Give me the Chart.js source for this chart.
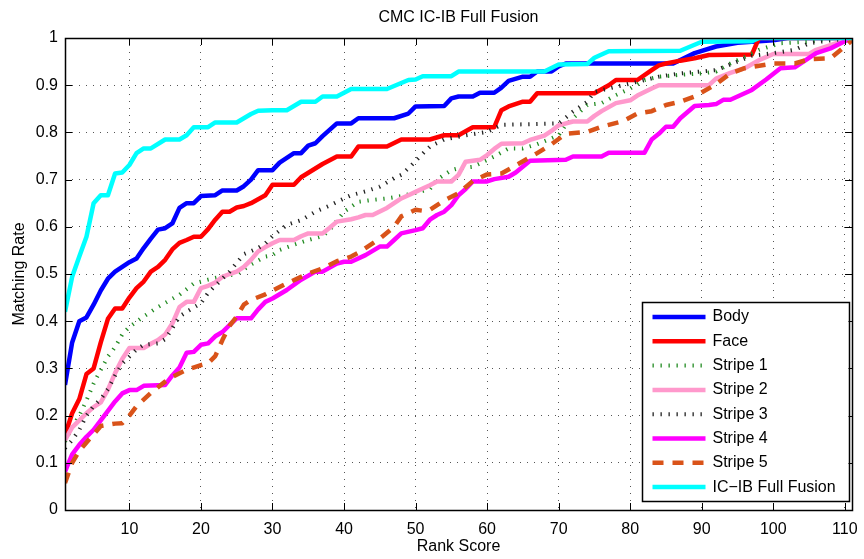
<!DOCTYPE html>
<html>
<head>
<meta charset="utf-8">
<script src="https://cdn.jsdelivr.net/npm/chart.js@4.4.0/dist/chart.umd.min.js"></script>
<style>
  html, body { margin: 0; padding: 0; background: #fff; }
</style>
</head>
<body>
<canvas id="cmc" width="864" height="559"></canvas>
<script>
// CMC curves: [rank, matching rate]
const body = [[1,0.265],[2,0.355],[3,0.40],[4,0.408],[5,0.435],[6,0.465],[7,0.49],[8,0.505],[10,0.525],[11,0.533],[12,0.555],[13,0.575],[14,0.594],[15,0.597],[16,0.607],[17,0.64],[18,0.65],[19,0.65],[20,0.665],[22,0.667],[23,0.677],[25,0.677],[26,0.686],[27,0.70],[28,0.72],[30,0.72],[31,0.736],[33,0.756],[34,0.756],[35,0.772],[36,0.777],[37,0.792],[39,0.819],[41,0.819],[42,0.83],[47,0.83],[49,0.84],[50,0.855],[54,0.856],[55,0.872],[56,0.876],[58,0.876],[59,0.884],[61,0.884],[62,0.895],[63,0.909],[65,0.918],[66,0.918],[67,0.929],[69,0.929],[70,0.94],[71,0.946],[86,0.946],[89,0.968],[92,0.982],[95,0.99],[100,0.995],[102,1.0],[111,1.0]];
const face = [[1,0.159],[2,0.205],[3,0.235],[4,0.288],[5,0.30],[6,0.355],[7,0.405],[8,0.427],[9,0.427],[10,0.45],[11,0.47],[12,0.484],[13,0.505],[14,0.515],[15,0.53],[16,0.552],[17,0.566],[18,0.572],[19,0.579],[20,0.579],[21,0.595],[22,0.615],[23,0.632],[24,0.632],[25,0.641],[26,0.644],[27,0.65],[29,0.667],[30,0.689],[33,0.689],[34,0.705],[37,0.733],[39,0.749],[41,0.749],[42,0.77],[46,0.77],[48,0.785],[52,0.785],[54,0.794],[56,0.794],[58,0.811],[61,0.811],[62,0.847],[63,0.855],[65,0.865],[66,0.865],[67,0.883],[75,0.883],[77,0.90],[78,0.911],[81,0.911],[83,0.932],[84,0.942],[85,0.946],[87,0.952],[89,0.957],[91,0.964],[97,0.965],[98,1.0],[111,1.0]];
const stripe1 = [[1,0.145],[2,0.175],[3,0.2],[4,0.232],[5,0.268],[6,0.297],[7,0.325],[8,0.345],[9,0.372],[10,0.388],[12,0.41],[14,0.43],[17,0.456],[19,0.48],[21,0.488],[23,0.495],[25,0.5],[27,0.52],[29,0.537],[30,0.54],[31,0.551],[33,0.562],[35,0.572],[37,0.58],[38,0.593],[40,0.632],[42,0.653],[44,0.657],[46,0.66],[48,0.665],[50,0.672],[52,0.68],[53,0.70],[55,0.72],[56,0.724],[58,0.727],[61,0.749],[63,0.766],[65,0.766],[67,0.775],[70,0.794],[71,0.816],[74,0.858],[76,0.862],[78,0.879],[80,0.893],[82,0.911],[84,0.918],[87,0.922],[90,0.925],[92,0.929],[94,0.946],[96,0.96],[98,0.975],[101,0.989],[105,0.992],[108,1.0],[111,1.0]];
const stripe2 = [[1,0.148],[2,0.175],[3,0.19],[4,0.205],[5,0.218],[6,0.228],[7,0.255],[8,0.29],[9,0.32],[10,0.343],[12,0.343],[13,0.352],[14,0.36],[15,0.372],[16,0.395],[17,0.43],[18,0.441],[19,0.441],[20,0.47],[21,0.475],[22,0.482],[23,0.494],[24,0.50],[25,0.505],[26,0.515],[27,0.53],[28,0.548],[29,0.557],[30,0.565],[31,0.572],[33,0.572],[34,0.58],[35,0.586],[37,0.586],[38,0.598],[39,0.611],[41,0.616],[42,0.62],[43,0.625],[44,0.625],[46,0.64],[47,0.65],[48,0.66],[49,0.667],[50,0.674],[51,0.681],[52,0.688],[53,0.696],[55,0.696],[56,0.71],[57,0.738],[59,0.742],[60,0.752],[61,0.765],[62,0.776],[65,0.777],[66,0.784],[68,0.793],[69,0.803],[70,0.815],[72,0.823],[74,0.823],[75,0.835],[76,0.845],[78,0.862],[80,0.868],[81,0.878],[83,0.893],[84,0.90],[91,0.90],[92,0.914],[94,0.926],[96,0.936],[98,0.953],[100,0.966],[105,0.966],[106,0.975],[111,1.0]];
const stripe3 = [[1,0.131],[2,0.148],[3,0.17],[4,0.2],[5,0.22],[6,0.235],[7,0.256],[8,0.285],[9,0.31],[10,0.325],[11,0.34],[12,0.35],[14,0.353],[15,0.362],[16,0.385],[17,0.41],[18,0.42],[20,0.438],[21,0.46],[22,0.475],[23,0.49],[24,0.505],[26,0.542],[28,0.555],[29,0.565],[30,0.58],[32,0.604],[34,0.614],[36,0.632],[38,0.645],[40,0.66],[41,0.667],[43,0.675],[45,0.685],[47,0.703],[48,0.71],[49,0.724],[51,0.755],[52,0.77],[54,0.785],[57,0.794],[60,0.801],[62,0.816],[70,0.819],[72,0.844],[74,0.865],[75,0.886],[79,0.9],[84,0.918],[87,0.925],[90,0.929],[92,0.932],[97,0.962],[100,0.968],[103,0.975],[105,0.989],[108,0.995],[111,1.0]];
const stripe4 = [[1,0.081],[2,0.118],[3,0.138],[4,0.155],[5,0.17],[6,0.19],[7,0.21],[8,0.23],[9,0.247],[10,0.254],[11,0.254],[12,0.263],[15,0.265],[16,0.285],[17,0.302],[18,0.333],[19,0.335],[20,0.35],[21,0.353],[22,0.368],[23,0.377],[24,0.392],[25,0.406],[27,0.406],[28,0.425],[29,0.441],[30,0.448],[32,0.466],[34,0.488],[36,0.505],[37,0.505],[39,0.522],[40,0.526],[41,0.526],[43,0.54],[45,0.558],[46,0.558],[47,0.572],[48,0.586],[50,0.593],[51,0.597],[52,0.615],[53,0.625],[54,0.632],[55,0.646],[56,0.667],[57,0.68],[58,0.696],[60,0.696],[61,0.701],[63,0.706],[64,0.715],[66,0.74],[71,0.742],[72,0.749],[76,0.749],[77,0.757],[82,0.757],[83,0.785],[84,0.797],[85,0.812],[86,0.812],[87,0.83],[89,0.856],[91,0.858],[92,0.86],[93,0.869],[94,0.869],[97,0.89],[99,0.912],[101,0.936],[103,0.938],[106,0.968],[108,0.978],[110,0.993],[111,1.0]];
const stripe5 = [[1,0.057],[2,0.10],[3,0.125],[4,0.143],[5,0.16],[6,0.178],[8,0.183],[9,0.184],[10,0.2],[11,0.22],[13,0.248],[15,0.272],[16,0.282],[18,0.297],[20,0.307],[21,0.311],[22,0.326],[23,0.36],[24,0.39],[25,0.41],[26,0.435],[27,0.445],[29,0.457],[30,0.465],[32,0.48],[35,0.501],[37,0.512],[39,0.527],[40,0.532],[41,0.537],[42,0.545],[43,0.555],[45,0.575],[47,0.6],[48,0.622],[50,0.636],[51,0.634],[52,0.636],[54,0.656],[56,0.671],[58,0.697],[60,0.711],[62,0.713],[64,0.73],[67,0.756],[69,0.775],[71,0.797],[74,0.801],[76,0.812],[79,0.824],[81,0.84],[83,0.845],[85,0.858],[87,0.865],[89,0.876],[92,0.902],[94,0.925],[96,0.936],[100,0.946],[103,0.946],[105,0.955],[108,0.957],[110,0.982],[111,0.995]];
const fusion = [[1,0.42],[2,0.494],[3,0.537],[4,0.579],[5,0.65],[6,0.667],[7,0.667],[8,0.713],[9,0.715],[10,0.731],[11,0.756],[12,0.766],[13,0.766],[15,0.785],[17,0.785],[18,0.794],[19,0.811],[21,0.811],[22,0.821],[25,0.821],[27,0.839],[28,0.846],[30,0.847],[32,0.847],[34,0.865],[36,0.865],[37,0.876],[39,0.876],[41,0.892],[46,0.892],[49,0.911],[50,0.912],[51,0.919],[55,0.919],[56,0.929],[68,0.929],[70,0.944],[74,0.945],[75,0.958],[77,0.972],[87,0.973],[90,0.992],[97,0.993],[98,1.0],[111,1.0]];

const seriesNames = ['Body', 'Face', 'Stripe 1', 'Stripe 2', 'Stripe 3', 'Stripe 4', 'Stripe 5', 'IC\u2212IB Full Fusion'];
const seriesData = [body, face, stripe1, stripe2, stripe3, stripe4, stripe5, fusion];
const xTicks = [10, 20, 30, 40, 50, 60, 70, 80, 90, 100, 110];
const yTicks = [0, 0.1, 0.2, 0.3, 0.4, 0.5, 0.6, 0.7, 0.8, 0.9, 1];

const styles = [
  { color: '#0000ff', width: 4.5, dash: [] },
  { color: '#ff0000', width: 4.5, dash: [] },
  { color: '#228b22', width: 4, dash: [1.3, 6.7] },
  { color: '#ff99cc', width: 4.5, dash: [] },
  { color: '#222222', width: 4, dash: [1.3, 6.7] },
  { color: '#ff00ff', width: 4.5, dash: [] },
  { color: '#d95319', width: 4.5, dash: [11, 9] },
  { color: '#00ffff', width: 4.5, dash: [] }
];

const FONT = 'Liberation Sans, Arial, Helvetica, sans-serif';

// box around the axes with inward tick marks on all four sides
const axesBox = {
  id: 'axesBox',
  afterDatasetsDraw(chart) {
    const { ctx, chartArea: a, scales } = chart;
    ctx.save();
    ctx.strokeStyle = '#000';
    ctx.lineWidth = 1;
    ctx.beginPath();
    xTicks.forEach(v => {
      const px = Math.round(scales.x.getPixelForValue(v)) + 0.5;
      ctx.moveTo(px, a.bottom); ctx.lineTo(px, a.bottom - 7);
      ctx.moveTo(px, a.top); ctx.lineTo(px, a.top + 7);
    });
    yTicks.forEach(v => {
      const py = Math.round(scales.y.getPixelForValue(v)) + 0.5;
      ctx.moveTo(a.left, py); ctx.lineTo(a.left + 7, py);
      ctx.moveTo(a.right, py); ctx.lineTo(a.right - 7, py);
    });
    ctx.stroke();
    ctx.lineWidth = 1.5;
    ctx.strokeRect(Math.round(a.left) + 0.5, Math.round(a.top) + 0.5,
                   Math.round(a.right - a.left), Math.round(a.bottom - a.top));
    ctx.restore();
  },
  afterDraw(chart) {
    const { ctx, chartArea: a } = chart;
    ctx.save();
    ctx.fillStyle = '#000';
    ctx.font = '16px ' + FONT;
    ctx.textAlign = 'center';
    ctx.textBaseline = 'middle';
    ctx.fillText('CMC IC-IB Full Fusion', (a.left + a.right) / 2, 18);
    ctx.restore();
  }
};

// legend box in the lower right corner of the plot
const cornerLegend = {
  id: 'cornerLegend',
  afterDraw(chart) {
    const { ctx, chartArea: a } = chart;
    const w = 207, h = 199;
    const x0 = a.right - 3.5 - w, y0 = a.bottom - 9 - h;
    ctx.save();
    ctx.fillStyle = '#fff';
    ctx.fillRect(x0, y0, w, h);
    ctx.strokeStyle = '#000';
    ctx.lineWidth = 1.5;
    ctx.strokeRect(Math.round(x0) + 0.5, Math.round(y0) + 0.5, w, h);
    ctx.font = '16px ' + FONT;
    ctx.textBaseline = 'middle';
    ctx.textAlign = 'left';
    chart.data.datasets.forEach((ds, i) => {
      const y = y0 + 15 + i * 24.3;
      ctx.beginPath();
      ctx.strokeStyle = ds.borderColor;
      ctx.lineWidth = ds.borderWidth;
      ctx.setLineDash(ds.borderDash);
      ctx.lineCap = 'butt';
      ctx.moveTo(x0 + 11, y);
      ctx.lineTo(x0 + 64, y);
      ctx.stroke();
      ctx.setLineDash([]);
      ctx.fillStyle = '#000';
      ctx.fillText(ds.label, x0 + 71, y);
    });
    ctx.restore();
  }
};

const datasets = seriesData.map((pts, i) => ({
  label: seriesNames[i],
  data: pts.map(p => ({ x: p[0], y: p[1] })),
  borderColor: styles[i].color,
  backgroundColor: styles[i].color,
  borderWidth: styles[i].width,
  borderDash: styles[i].dash,
  borderCapStyle: 'butt',
  borderJoinStyle: 'round',
  pointRadius: 0,
  tension: 0,
  fill: false,
  order: seriesData.length - 1 - i
}));

new Chart(document.getElementById('cmc'), {
  type: 'line',
  data: { datasets: datasets },
  options: {
    responsive: false,
    animation: false,
    layout: { padding: { top: 38, right: 12, left: 0, bottom: 0 } },
    plugins: {
      legend: { display: false },
      tooltip: { enabled: false },
      title: { display: false }
    },
    scales: {
      x: {
        type: 'linear',
        min: 1,
        max: 111,
        afterBuildTicks: s => { s.ticks = xTicks.map(v => ({ value: v })); },
        afterFit: s => { s.height = 49; s.paddingLeft = 0; s.paddingRight = 0; },
        grid: { color: '#555', lineWidth: 1, drawTicks: false },
        border: { display: false, dash: [1, 6] },
        ticks: { color: '#000', font: { family: FONT, size: 16 }, padding: 10, maxRotation: 0 },
        title: { display: true, text: 'Rank Score', color: '#000', font: { family: FONT, size: 16 }, padding: { top: 0, bottom: 3 } }
      },
      y: {
        min: 0,
        max: 1,
        afterBuildTicks: s => { s.ticks = yTicks.map(v => ({ value: v })); },
        afterFit: s => { s.width = 65; s.paddingTop = 0; s.paddingBottom = 0; },
        grid: { color: '#555', lineWidth: 1, drawTicks: false },
        border: { display: false, dash: [1, 6] },
        ticks: {
          color: '#000', font: { family: FONT, size: 16 }, padding: 7,
          callback: v => String(Number(v.toFixed(1)))
        },
        title: { display: true, text: 'Matching Rate', color: '#000', font: { family: FONT, size: 16 }, padding: { top: 10, bottom: 0 } }
      }
    }
  },
  plugins: [axesBox, cornerLegend]
});
</script>
</body>
</html>
